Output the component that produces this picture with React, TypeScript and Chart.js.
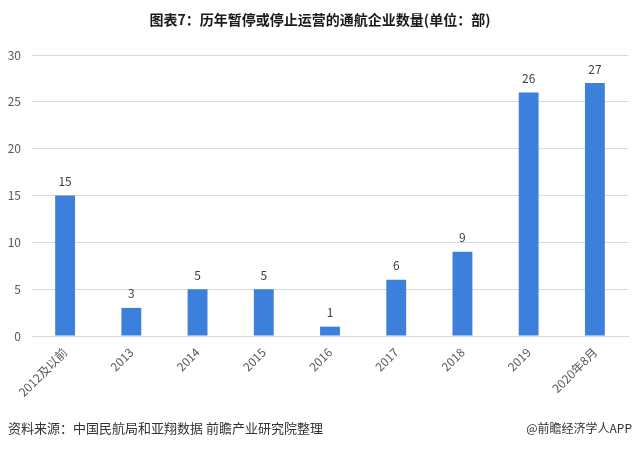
import React, { useEffect, useRef } from "react";
import { Chart, registerables } from "chart.js";

Chart.register(...registerables);

const categories = ["2012及以前", "2013", "2014", "2015", "2016", "2017", "2018", "2019", "2020年8月"];
const values = [15, 3, 5, 5, 1, 6, 9, 26, 27];
const yTicks = [0, 5, 10, 15, 20, 25, 30];

const titleText = "图表7：历年暂停或停止运营的通航企业数量(单位：部)";
const sourceText = "资料来源：中国民航局和亚翔数据 前瞻产业研究院整理";
const brandText = "@前瞻经济学人APP";

const FONT = '"Noto Sans CJK SC", "Noto Sans", sans-serif';

const decorPlugin = {
  id: "decor",
  afterDatasetsDraw(chart: any) {
    const ctx = chart.ctx;
    const meta = chart.getDatasetMeta(0);
    ctx.save();
    ctx.font = `12px ${FONT}`;
    ctx.fillStyle = "#404040";
    ctx.textAlign = "center";
    ctx.textBaseline = "middle";
    meta.data.forEach((el: any, i: number) => {
      ctx.fillText(String(values[i]), el.x, el.y - 14);
    });
    ctx.restore();
  },
  afterDraw(chart: any) {
    const ctx = chart.ctx;
    ctx.save();
    ctx.fillStyle = "#1a1a1a";
    ctx.font = `bold 14px ${FONT}`;
    ctx.textAlign = "center";
    ctx.textBaseline = "middle";
    ctx.fillText(titleText, 320, 20);
    ctx.fillStyle = "#333333";
    ctx.font = `13px ${FONT}`;
    ctx.textAlign = "left";
    ctx.fillText(sourceText, 8, 428);
    ctx.font = `12px ${FONT}`;
    ctx.textAlign = "right";
    ctx.fillText(brandText, 632, 428);
    ctx.restore();
  },
};

export default function App() {
  const ref = useRef<HTMLCanvasElement | null>(null);
  useEffect(() => {
    if (!ref.current) return;
    const chart = new Chart(ref.current, {
      type: "bar",
      data: {
        labels: categories,
        datasets: [
          {
            data: values,
            backgroundColor: "#3d80dc",
            categoryPercentage: 1,
            barPercentage: 0.3,
          },
        ],
      },
      options: {
        responsive: false,
        animation: false,
        devicePixelRatio: 1,
        layout: { padding: { top: 55, left: 0, right: 12, bottom: 43 } },
        plugins: {
          legend: { display: false },
          title: { display: false },
          tooltip: { enabled: false },
        },
        scales: {
          x: {
            grid: { display: false, drawTicks: false },
            border: { display: true, color: "#d9d9d9", width: 1 },
            ticks: {
              minRotation: 45,
              maxRotation: 45,
              autoSkip: false,
              padding: 9,
              color: "#595959",
              font: { family: FONT, size: 12 },
            },
            afterFit(scale: any) {
              scale.height = 70;
            },
          },
          y: {
            min: 0,
            max: 30,
            afterBuildTicks(scale: any) {
              scale.ticks = yTicks.map((v) => ({ value: v }));
            },
            grid: { color: "#d9d9d9", drawTicks: false },
            border: { display: false },
            ticks: {
              padding: 11,
              color: "#595959",
              font: { family: FONT, size: 12 },
            },
            afterFit(scale: any) {
              scale.width = 32;
            },
          },
        },
      },
      plugins: [decorPlugin],
    } as any);
    return () => chart.destroy();
  }, []);
  return (
    <div style={{ position: "absolute", left: 0, top: 0, width: 640, height: 449, background: "#fff" }}>
      <canvas ref={ref} width={640} height={449} style={{ display: "block" }} />
    </div>
  );
}
